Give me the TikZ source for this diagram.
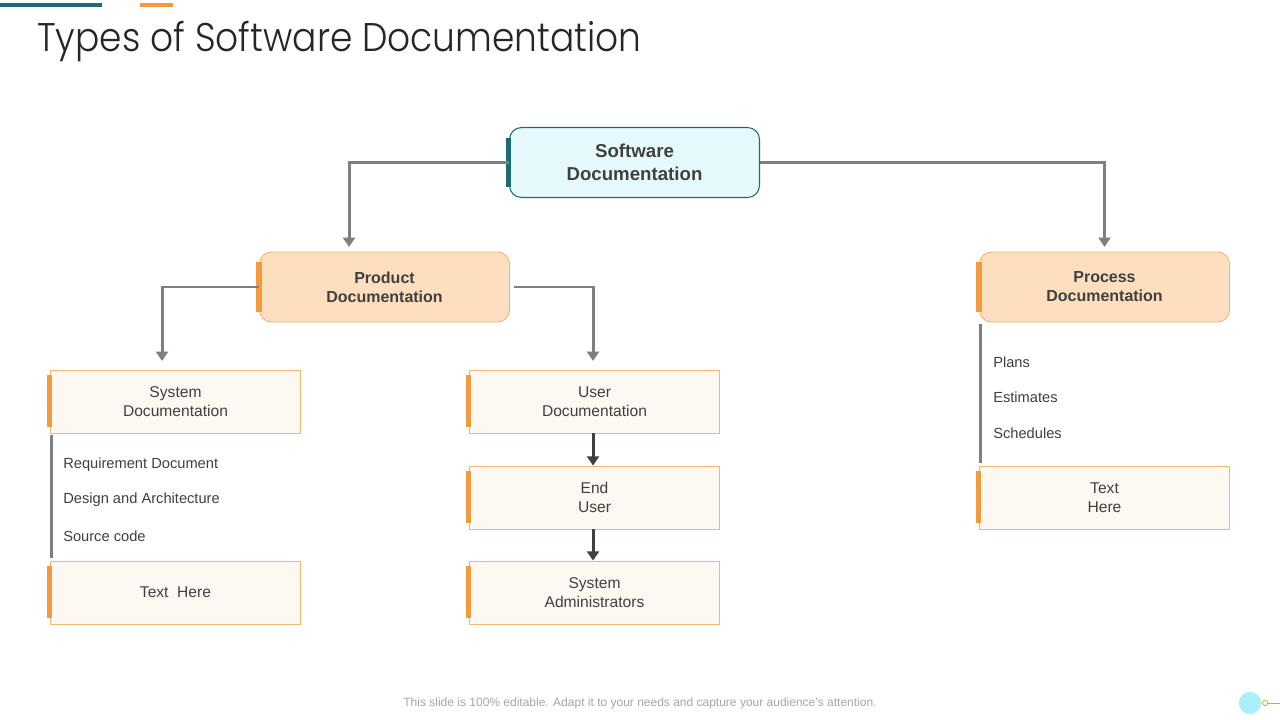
\documentclass[tikz,border=0pt]{standalone}
\usepackage{fontspec}
\setmainfont{Liberation Sans}
\newfontfamily\titlefont[FakeStretch=0.9]{Poppins Light}
\usetikzlibrary{arrows.meta}
\definecolor{myteal}{HTML}{1A6B74}
\definecolor{myorange}{HTML}{F39A3C}
\definecolor{topfill}{HTML}{E6FAFD}
\definecolor{midfill}{HTML}{FDDFC0}
\definecolor{midline}{HTML}{EDB06E}
\definecolor{leaffill}{HTML}{FEF8F2}
\definecolor{leafline}{HTML}{F0B870}
\definecolor{txtgray}{HTML}{404040}
\definecolor{titlegray}{HTML}{262626}
\definecolor{conngray}{HTML}{7F7F7F}
\definecolor{darkconn}{HTML}{404040}
\definecolor{footgray}{HTML}{A6A6A6}
\definecolor{cyanc}{HTML}{A8F0FA}
\tikzset{
  topbox/.style={draw=myteal, line width=0.8pt, fill=topfill, rounded corners=9pt,
    minimum width=187.5pt, minimum height=52.5pt, align=center, text=txtgray,
    font=\fontsize{14}{17}\selectfont\bfseries},
  midbox/.style={draw=midline, line width=0.6pt, fill=midfill, rounded corners=9pt,
    minimum width=187.5pt, minimum height=52.5pt, align=center, text=txtgray,
    font=\fontsize{12}{14.3}\selectfont\bfseries},
  leafbox/.style={draw=leafline, line width=0.6pt, fill=leaffill,
    minimum width=187.5pt, minimum height=47.25pt, align=center, text=txtgray,
    font=\fontsize{11.7}{14.3}\selectfont},
  listitem/.style={anchor=west, inner sep=0pt, text=txtgray, font=\fontsize{11}{13}\selectfont},
  conn/.style={draw=conngray, line width=2.2pt, -{Triangle[length=7pt,width=9pt]}},
  dconn/.style={draw=darkconn, line width=2.2pt, -{Triangle[length=7pt,width=9pt]}},
}
\begin{document}
\begin{tikzpicture}[x=0.75pt,y=-0.75pt]
\useasboundingbox (0,0) rectangle (1280,720);
\fill[white] (0,0) rectangle (1280,720);
% top decorative lines
\draw[myteal, line width=2.4pt] (0,5) -- (102,5);
\draw[myorange, line width=2.4pt] (140,5) -- (173,5);
% title
\node[anchor=base west, inner sep=0pt, text=titlegray, font=\titlefont\fontsize{30}{36}\selectfont] (title) at (37,52) {Types of Software Documentation};
% boxes
\node[topbox] (sd) at (634.5,162.5) {Software\\Documentation};
\node[midbox] (pd) at (384.5,287) {Product\\Documentation};
\node[midbox] (prd) at (1104.5,287) {Process\\Documentation};
\node[leafbox] (sys) at (175.5,401.5) {System\\Documentation};
\node[leafbox] (ud) at (594.5,401.5) {User\\Documentation};
\node[leafbox] (eu) at (594.5,497.5) {End\\User};
\node[leafbox] (sa) at (594.5,592.5) {System\\Administrators};
\node[leafbox] (th1) at (175.5,592.5) {Text\ \ Here};
\node[leafbox] (th2) at (1104.5,497.5) {Text\\Here};
% accent bars
\fill[myteal] ([xshift=-2.6pt,yshift=-8pt]sd.north west) rectangle ([xshift=1.2pt,yshift=8.5pt]sd.south west);
\foreach \n in {pd,prd}
  \fill[myorange] ([xshift=-2pt,yshift=-8pt]\n.north west) rectangle ([xshift=1.8pt,yshift=8pt]\n.south west);
\foreach \n in {sys,ud,eu,sa,th1,th2}
  \fill[myorange] ([xshift=-2.4pt,yshift=-3.8pt]\n.north west) rectangle ([xshift=1.4pt,yshift=4.5pt]\n.south west);
% gray side bars
\fill[conngray] ([xshift=-0.2pt,yshift=-1.5pt]sys.south west) rectangle ([xshift=2.2pt,yshift=2pt]th1.north west);
\fill[conngray] ([xshift=-0.2pt,yshift=-1.5pt]prd.south west) rectangle ([xshift=2.2pt,yshift=2pt]th2.north west);
% list items
\node[listitem] (l1) at (63,465) {Requirement Document};
\node[listitem] (l2) at (63,500) {Design and Architecture};
\node[listitem] (l3) at (63,536) {Source code};
\node[listitem] (r1) at (993,362) {Plans};
\node[listitem] (r2) at (993,397) {Estimates};
\node[listitem] (r3) at (993,433) {Schedules};
% connectors
\draw[conn, shorten >=3.5pt] (sd.west) -| ([xshift=-26.6pt]pd.north);
\draw[conn, shorten >=3.5pt] (sd.east) -| (prd.north);
\draw[conn, shorten >=6.5pt, shorten <=-1pt] ([xshift=-1pt]pd.west) -| ([xshift=-10.1pt]sys.north);
\draw[conn, shorten >=6.5pt] ([xshift=3pt]pd.east) -| ([xshift=-1.1pt]ud.north);
\draw[dconn] ([xshift=-1.1pt]ud.south) -- ([xshift=-1.1pt]eu.north);
\draw[dconn] ([xshift=-1.1pt]eu.south) -- ([xshift=-1.1pt]sa.north);
% footer
\node[text=footgray, font=\fontsize{9}{11}\selectfont] (foot) at (640,703) {This slide is 100\% editable. Adapt it to your needs and capture your audience's attention.};
\fill[cyanc] (1250,703) circle[radius=8.4pt];
\draw[myorange, line width=0.6pt] (1265,703) circle[radius=2pt];
\draw[myorange, line width=0.6pt] (1268,703) -- (1280,703);
\end{tikzpicture}
\end{document}
